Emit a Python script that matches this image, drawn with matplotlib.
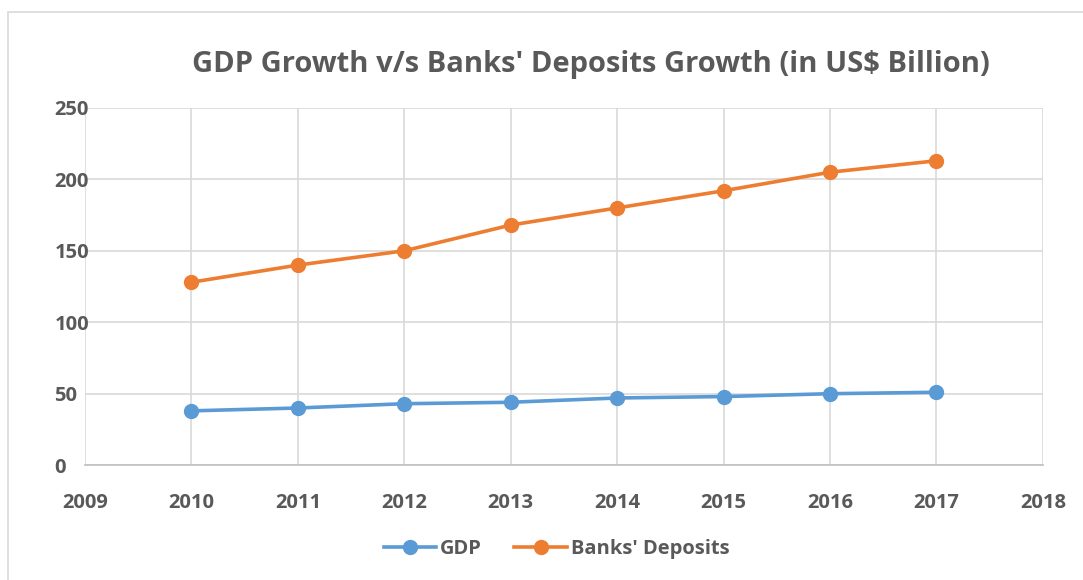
import matplotlib.pyplot as plt
from matplotlib.patches import Rectangle

years = [2010, 2011, 2012, 2013, 2014, 2015, 2016, 2017]
gdp = [38, 40, 43, 44, 47, 48, 50, 51]
deposits = [128, 140, 150, 168, 180, 192, 205, 213]

plt.rcParams['font.family'] = ['Open Sans', 'DejaVu Sans']
txt = '#595959'

fig = plt.figure(figsize=(10.83, 5.8), dpi=100)
fig.patches.append(Rectangle((0.0074, -0.1), 1.2, 1.079, transform=fig.transFigure,
                             fill=False, edgecolor='#d9d9d9', linewidth=1.2))
ax = fig.add_axes([0.0785, 0.198, 0.8845, 0.616])

ax.plot(years, gdp, color='#5b9bd5', linewidth=2.6, marker='o', markersize=10, label='GDP')
ax.plot(years, deposits, color='#ed7d31', linewidth=2.6, marker='o', markersize=10, label="Banks' Deposits")

ax.set_xlim(2009, 2018)
ax.set_ylim(0, 250)
ax.set_xticks(range(2009, 2019))
ax.set_yticks(range(0, 251, 50))
ax.grid(True, color='#d9d9d9', linewidth=1.2)
ax.set_axisbelow(True)
for s in ['top', 'right', 'left']:
    ax.spines[s].set_visible(False)
ax.spines['bottom'].set_color('#bfbfbf')
ax.spines['bottom'].set_linewidth(1.2)
ax.tick_params(length=0, labelsize=14.5, labelcolor=txt, pad=20)
ax.tick_params(axis='y', pad=22)
for lab in ax.get_xticklabels():
    lab.set_fontweight('bold')
for lab in ax.get_yticklabels():
    lab.set_fontweight('bold')
    lab.set_horizontalalignment('left')

fig.text(0.546, 0.889, "GDP Growth v/s Banks' Deposits Growth (in US$ Billion)",
         ha='center', va='center', fontsize=21, fontweight='bold', color=txt)

leg = fig.legend(loc='center', bbox_to_anchor=(0.514, 0.053), ncol=2, frameon=False,
                 prop={'size': 14.5, 'weight': 'bold'}, handlelength=2.6, columnspacing=1.6,
                 handletextpad=0.2)
for t in leg.get_texts():
    t.set_color(txt)

fig.savefig('out.png', dpi=100, facecolor='white')
